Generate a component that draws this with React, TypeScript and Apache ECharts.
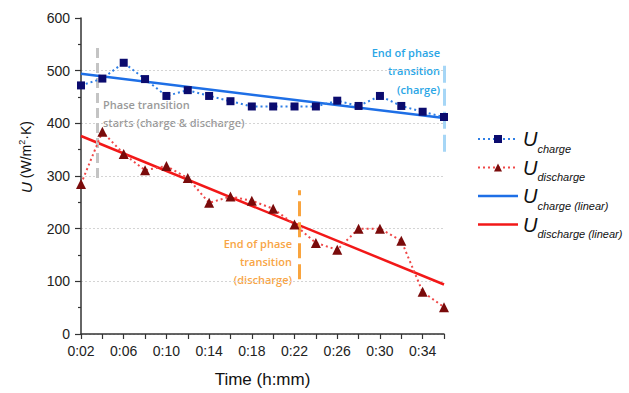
import React, { useEffect, useRef } from 'react';
import * as echarts from 'echarts';

// ---- data ----
const minutes = [2, 4, 6, 8, 10, 12, 14, 16, 18, 20, 22, 24, 26, 28, 30, 32, 34, 36];
const uCharge = [472, 485, 515, 484, 452, 463, 452, 442, 432, 432, 432, 432, 443, 433, 452, 433, 422, 412];
const uDischarge = [285, 384, 342, 311, 319, 296, 249, 261, 253, 238, 208, 173, 160, 200, 200, 177, 80, 51];
const fitMinutes = [2, 36];
const chargeFit = [494, 410];
const dischargeFit = [376, 94];
const xLabelMinutes = [2, 6, 10, 14, 18, 22, 26, 30, 34];
const seriesNames = ['charge', 'discharge', 'charge (linear)', 'discharge (linear)'];

// annotation markers: [minute, fromValue, toValue]
const phaseStart = [3.55, 296, 552];
const chargeEnd = [36, 346, 515];
const dischargeEnd = [22.45, 104, 273];

const fmtTime = (m: number) => `0:${String(m).padStart(2, '0')}`;
const pairs = (xs: number[], ys: number[]) => xs.map((x, i) => [x, ys[i]]);

const ANNOT_FONT = '"Open Sans", "Noto Sans", sans-serif';
const BASE_FONT = '"Liberation Sans", Arial, sans-serif';
const LINE_ICON = 'path://M0,0L40,0L40,2.6L0,2.6Z';

export default function App() {
  const ref = useRef<HTMLDivElement>(null);
  useEffect(() => {
    if (!ref.current) return;
    const chart = echarts.init(ref.current, undefined, { renderer: 'svg' });
    const vLine = (m: number[], color: string, dash: number[]) => ({
      silent: true,
      symbol: ['none', 'none'],
      label: { show: false },
      lineStyle: { color, width: 3, type: dash },
      data: [[{ coord: [m[0], m[1]] }, { coord: [m[0], m[2]] }]],
    });
    const option: any = {
      animation: false,
      backgroundColor: '#ffffff',
      textStyle: { fontFamily: BASE_FONT },
      grid: { left: 81, right: 185, top: 18, bottom: 59 },
      legend: {
        orient: 'vertical',
        left: 477,
        top: 129,
        padding: 0,
        itemWidth: 40,
        itemHeight: 10,
        itemGap: 3.5,
        symbolKeepAspect: true,
        data: [
          { name: seriesNames[0] },
          { name: seriesNames[1] },
          { name: seriesNames[2], icon: LINE_ICON },
          { name: seriesNames[3], icon: LINE_ICON },
        ],
        formatter: (name: string) => `{u|U}{s|${name}}`,
        textStyle: {
          fontFamily: BASE_FONT,
          color: '#111',
          rich: {
            u: { fontSize: 20, fontStyle: 'italic', lineHeight: 20, verticalAlign: 'top', color: '#111' },
            s: { fontSize: 11, fontStyle: 'italic', lineHeight: 11, padding: [14, 0, 0, 0], verticalAlign: 'top', color: '#111' },
          },
        },
      },
      xAxis: {
        type: 'value',
        min: 2,
        max: 36,
        interval: 2,
        name: 'Time (h:mm)',
        nameLocation: 'middle',
        nameGap: 37,
        nameTextStyle: { fontSize: 17, color: '#111', fontFamily: BASE_FONT },
        axisLine: { show: true, lineStyle: { color: '#333', width: 1.5 } },
        axisTick: { show: true, length: 5, lineStyle: { color: '#333', width: 1.2 } },
        axisLabel: {
          margin: 10,
          fontSize: 14,
          color: '#222',
          fontFamily: BASE_FONT,
          formatter: (v: number) => (xLabelMinutes.includes(v) ? fmtTime(v) : ''),
        },
        splitLine: { show: false },
      },
      yAxis: {
        type: 'value',
        min: 0,
        max: 600,
        interval: 100,
        axisLine: { show: true, lineStyle: { color: '#333', width: 1.5 } },
        axisTick: { show: true, length: 6, lineStyle: { color: '#333', width: 1.2 } },
        minorTick: { show: true, splitNumber: 2, length: 3, lineStyle: { color: '#333', width: 1.2 } },
        axisLabel: { margin: 11, fontSize: 14, color: '#222', fontFamily: BASE_FONT },
        splitLine: { show: true, showMaxLine: false, lineStyle: { color: '#d4d4d4', width: 1, type: [2, 2] } },
      },
      graphic: [
        {
          type: 'text',
          x: 26,
          y: 157,
          rotation: Math.PI / 2,
          style: {
            text: '{i|U} (W/m{sup|2}·K)',
            align: 'center',
            verticalAlign: 'middle',
            fill: '#111',
            font: `14px ${BASE_FONT}`,
            rich: {
              i: { fontSize: 15, fontStyle: 'italic', fontFamily: BASE_FONT, lineHeight: 18, fill: '#111' },
              sup: { fontSize: 9, fontFamily: BASE_FONT, verticalAlign: 'top', lineHeight: 9, fill: '#111' },
            },
          },
        },
        {
          type: 'text',
          x: 103,
          y: 95,
          style: {
            text: 'Phase transition\nstarts (charge & discharge)',
            fill: '#9a9a9a',
            font: `600 11px ${ANNOT_FONT}`,
            lineHeight: 18,
            align: 'left',
            verticalAlign: 'top',
          },
        },
        {
          type: 'text',
          x: 440,
          y: 43.5,
          style: {
            text: 'End of phase\ntransition\n(charge)',
            fill: '#2aa6e6',
            font: `600 11px ${ANNOT_FONT}`,
            lineHeight: 18.3,
            align: 'right',
            verticalAlign: 'top',
          },
        },
        {
          type: 'text',
          x: 292,
          y: 234.3,
          style: {
            text: 'End of phase\ntransition\n(discharge)',
            fill: '#f8a545',
            font: `600 11px ${ANNOT_FONT}`,
            lineHeight: 18,
            align: 'right',
            verticalAlign: 'top',
          },
        },
      ],
      series: [
        {
          name: seriesNames[0],
          type: 'line',
          data: pairs(minutes, uCharge),
          symbol: 'rect',
          symbolSize: 8,
          itemStyle: { color: '#0b0b6e' },
          lineStyle: { color: '#2f7fe6', width: 2, type: [2, 3] },
          z: 5,
        },
        {
          name: seriesNames[1],
          type: 'line',
          data: pairs(minutes, uDischarge),
          symbol: 'triangle',
          symbolSize: 10,
          itemStyle: { color: '#7a0b0b' },
          lineStyle: { color: '#f04848', width: 2, type: [2, 3] },
          z: 5,
        },
        {
          name: seriesNames[2],
          type: 'line',
          data: pairs(fitMinutes, chargeFit),
          symbol: 'none',
          itemStyle: { color: '#1e6fe6' },
          lineStyle: { color: '#1e6fe6', width: 2.5 },
          z: 4,
          markLine: vLine(chargeEnd, '#a6d6f6', [17, 6]),
        },
        {
          name: seriesNames[3],
          type: 'line',
          data: pairs(fitMinutes, dischargeFit),
          symbol: 'none',
          itemStyle: { color: '#f21818' },
          lineStyle: { color: '#f21818', width: 2.5 },
          z: 4,
          markLine: vLine(dischargeEnd, '#f9a43e', [15, 6]),
        },
        {
          name: 'phase-start',
          type: 'line',
          data: [],
          symbol: 'none',
          markLine: vLine(phaseStart, '#c4c4c4', [10, 5]),
          z: 3,
        },
      ],
    };
    chart.setOption(option);
    return () => chart.dispose();
  }, []);
  return (
    <div
      ref={ref}
      style={{ position: 'fixed', left: 0, top: 0, width: 629, height: 393, background: '#fff' }}
    />
  );
}
